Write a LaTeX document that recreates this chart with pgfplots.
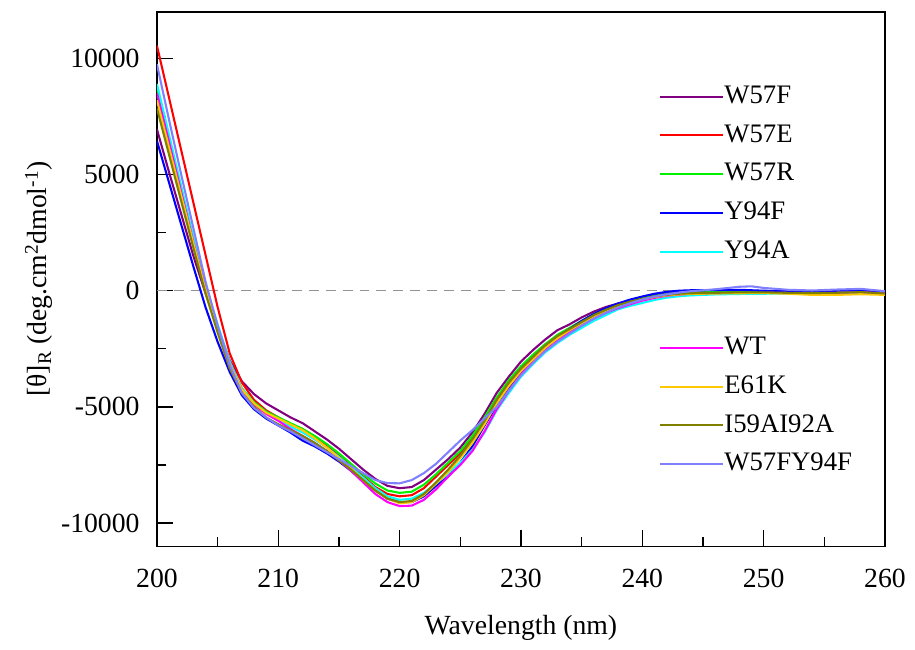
\documentclass[border=0pt]{standalone}
\usepackage{pgfplots}
\pgfplotsset{compat=1.18}
\usepackage{fontspec}
\setmainfont{Liberation Serif}
\setsansfont{Liberation Serif}
\newfontfamily\tnr{Liberation Serif}
\definecolor{cW57F}{HTML}{800080}
\definecolor{cW57E}{HTML}{FF0000}
\definecolor{cW57R}{HTML}{00F000}
\definecolor{cY94F}{HTML}{0000FF}
\definecolor{cY94A}{HTML}{00FFFF}
\definecolor{cWT}{HTML}{FF00FF}
\definecolor{cE61K}{HTML}{FFC800}
\definecolor{cI59}{HTML}{808000}
\definecolor{cDbl}{HTML}{8080FF}
\begin{document}
\tnr\fontsize{28}{32}\selectfont
\begin{tikzpicture}[font=\tnr]
\begin{axis}[
  scale only axis, width=733bp, height=538bp,
  xmin=200, xmax=260, ymin=-11000, ymax=12000,
  xtick={200,210,...,260}, minor xtick={205,215,...,255},
  ytick={-10000,-5000,0,5000,10000}, minor ytick={-7500,-2500,2500,7500},
  scaled y ticks=false,
  tick align=inside, xtick pos=bottom, ytick pos=left,
  major tick length=16bp, minor tick length=9bp,
  every tick/.style={black, line width=1.3pt},
  axis line style={line width=1.4pt},
  /pgf/number format/assume math mode=true,
  /pgf/number format/set thousands separator={},
  tick label style={font=\tnr\fontsize{28}{32}\selectfont},
  xticklabel style={yshift=-13bp},
  yticklabel style={xshift=-8bp},
  xlabel={Wavelength (nm)},
  ylabel={[θ]\textsubscript{R} (deg.cm\textsuperscript{2}dmol\textsuperscript{-1})},
  xlabel style={at={(axis description cs:0.5,-0.152)}, anchor=center, font=\tnr\fontsize{28}{32}\selectfont},
  ylabel style={at={(axis description cs:-0.162,0.5)}, anchor=center, font=\tnr\fontsize{28}{32}\selectfont},
  legend style={draw=none, fill=none, inner sep=0pt, at={(axis description cs:0.689,0.878)}, anchor=north west,
    font=\tnr\fontsize{27}{31}\selectfont, row sep=0pt, column sep=0pt, nodes={minimum height=39bp, inner sep=0pt}},
  legend cell align=left,
  legend image code/.code={\draw[#1] (0bp,0bp) -- (53bp,0bp); \path (0bp,0bp) -- (64bp,0bp);},
  every axis plot/.append style={line width=2.1pt},
]
\addplot[gray!85, dashed, line width=1.5pt, dash pattern=on 10bp off 7bp, forget plot] coordinates {(200,0) (260,0)};
% W57F
\addplot[cW57F] coordinates {(200,6950)(201,5100)(202,3300)(203,1500)(204,-100)(205,-1600)(206,-3000)(207,-3900)(208,-4450)(209,-4850)(210,-5150)(211,-5450)(212,-5700)(213,-6050)(214,-6400)(215,-6800)(216,-7250)(217,-7700)(218,-8100)(219,-8400)(220,-8500)(221,-8450)(222,-8150)(223,-7700)(224,-7250)(225,-6750)(226,-6100)(227,-5300)(228,-4400)(229,-3700)(230,-3050)(231,-2550)(232,-2100)(233,-1700)(234,-1450)(235,-1150)(236,-900)(237,-700)(238,-550)(239,-420)(240,-300)(241,-200)(242,-130)(243,-80)(244,-50)(246,-40)(248,-30)(250,-20)(252,-40)(254,-60)(256,-30)(258,-20)(260,-60)};
\addlegendentry{W57F}
% W57E
\addplot[cW57E] coordinates {(200,10550)(201,8300)(202,6050)(203,3800)(204,1550)(205,-700)(206,-2700)(207,-3950)(208,-4700)(209,-5150)(210,-5450)(211,-5750)(212,-5950)(213,-6300)(214,-6700)(215,-7100)(216,-7550)(217,-8000)(218,-8450)(219,-8750)(220,-8850)(221,-8800)(222,-8500)(223,-8000)(224,-7500)(225,-7000)(226,-6350)(227,-5600)(228,-4800)(229,-4050)(230,-3400)(231,-2900)(232,-2450)(233,-2050)(234,-1750)(235,-1450)(236,-1150)(237,-900)(238,-700)(239,-520)(240,-380)(241,-260)(242,-180)(243,-130)(244,-100)(246,-80)(248,-60)(250,-60)(252,-70)(254,-80)(256,-60)(258,-40)(260,-100)};
\addlegendentry{W57E}
% W57R
\addplot[cW57R] coordinates {(200,8700)(201,6500)(202,4350)(203,2200)(204,150)(205,-1500)(206,-3100)(207,-4200)(208,-4800)(209,-5200)(210,-5450)(211,-5700)(212,-5950)(213,-6250)(214,-6600)(215,-7000)(216,-7450)(217,-7900)(218,-8300)(219,-8600)(220,-8700)(221,-8650)(222,-8350)(223,-7900)(224,-7400)(225,-6900)(226,-6250)(227,-5450)(228,-4600)(229,-3850)(230,-3250)(231,-2750)(232,-2300)(233,-1900)(234,-1600)(235,-1300)(236,-1000)(237,-780)(238,-600)(239,-450)(240,-320)(241,-220)(242,-150)(243,-100)(244,-80)(246,-60)(248,-30)(250,-30)(252,-40)(254,-50)(256,-40)(258,20)(260,-60)};
\addlegendentry{W57R}
% Y94F
\addplot[cY94F] coordinates {(200,6450)(201,4650)(202,2850)(203,1050)(204,-700)(205,-2200)(206,-3500)(207,-4500)(208,-5100)(209,-5500)(210,-5800)(211,-6100)(212,-6450)(213,-6700)(214,-7000)(215,-7350)(216,-7750)(217,-8200)(218,-8600)(219,-8950)(220,-9100)(221,-9100)(222,-8850)(223,-8400)(224,-8000)(225,-7400)(226,-6700)(227,-5800)(228,-4950)(229,-4200)(230,-3500)(231,-2900)(232,-2400)(233,-2000)(234,-1650)(235,-1300)(236,-1000)(237,-750)(238,-550)(239,-380)(240,-250)(241,-130)(242,-50)(243,0)(244,20)(246,30)(248,40)(250,0)(252,-20)(254,-30)(256,0)(258,20)(260,-50)};
\addlegendentry{Y94F}
% Y94A
\addplot[cY94A] coordinates {(200,8900)(201,6700)(202,4500)(203,2300)(204,250)(205,-1450)(206,-3050)(207,-4200)(208,-4850)(209,-5250)(210,-5550)(211,-5850)(212,-6100)(213,-6400)(214,-6750)(215,-7150)(216,-7600)(217,-8050)(218,-8500)(219,-8850)(220,-9000)(221,-8950)(222,-8700)(223,-8300)(224,-7850)(225,-7400)(226,-6850)(227,-6100)(228,-5150)(229,-4400)(230,-3700)(231,-3150)(232,-2650)(233,-2250)(234,-1900)(235,-1600)(236,-1300)(237,-1050)(238,-800)(239,-650)(240,-530)(241,-400)(242,-300)(243,-240)(244,-200)(246,-160)(248,-140)(250,-130)(252,-120)(254,-120)(256,-100)(258,-90)(260,-120)};
\addlegendentry{Y94A}
% WT
\addplot[cWT] coordinates {(200,8500)(201,6400)(202,4250)(203,2100)(204,100)(205,-1550)(206,-3150)(207,-4250)(208,-4900)(209,-5300)(210,-5600)(211,-5950)(212,-6250)(213,-6550)(214,-6900)(215,-7300)(216,-7750)(217,-8250)(218,-8750)(219,-9100)(220,-9270)(221,-9250)(222,-9000)(223,-8550)(224,-8000)(225,-7500)(226,-6900)(227,-6050)(228,-5100)(229,-4300)(230,-3600)(231,-3050)(232,-2550)(233,-2150)(234,-1800)(235,-1500)(236,-1200)(237,-950)(238,-750)(239,-580)(240,-430)(241,-310)(242,-220)(243,-170)(244,-130)(246,-100)(248,-90)(250,-90)(252,-100)(254,-110)(256,-90)(258,-70)(260,-110)};
% E61K
\addplot[cE61K] coordinates {(200,8200)(201,6150)(202,4100)(203,2050)(204,50)(205,-1600)(206,-3150)(207,-4250)(208,-4850)(209,-5250)(210,-5500)(211,-5750)(212,-6000)(213,-6350)(214,-6750)(215,-7200)(216,-7650)(217,-8150)(218,-8600)(219,-8950)(220,-9150)(221,-9100)(222,-8800)(223,-8300)(224,-7800)(225,-7200)(226,-6550)(227,-5750)(228,-4850)(229,-4100)(230,-3450)(231,-2950)(232,-2450)(233,-2050)(234,-1700)(235,-1400)(236,-1100)(237,-850)(238,-650)(239,-500)(240,-370)(241,-270)(242,-200)(243,-160)(244,-140)(246,-120)(248,-110)(250,-100)(252,-130)(254,-180)(256,-180)(258,-150)(260,-180)};
% I59AI92A
\addplot[cI59] coordinates {(200,7850)(201,5850)(202,3850)(203,1850)(204,-100)(205,-1800)(206,-3350)(207,-4400)(208,-5000)(209,-5450)(210,-5750)(211,-6000)(212,-6250)(213,-6550)(214,-6900)(215,-7300)(216,-7700)(217,-8150)(218,-8600)(219,-8950)(220,-9100)(221,-9050)(222,-8750)(223,-8250)(224,-7700)(225,-7100)(226,-6400)(227,-5600)(228,-4700)(229,-3950)(230,-3350)(231,-2850)(232,-2350)(233,-1950)(234,-1650)(235,-1350)(236,-1050)(237,-820)(238,-620)(239,-470)(240,-350)(241,-250)(242,-180)(243,-130)(244,-110)(246,-90)(248,-70)(250,-70)(252,-90)(254,-100)(256,-90)(258,-60)(260,-120)};
% W57FY94F
\addplot[cDbl] coordinates {(200,9750)(201,7350)(202,5000)(203,2700)(204,400)(205,-1500)(206,-3200)(207,-4400)(208,-5050)(209,-5450)(210,-5800)(211,-6050)(212,-6350)(213,-6650)(214,-6950)(215,-7250)(216,-7550)(217,-7850)(218,-8150)(219,-8280)(220,-8290)(221,-8150)(222,-7850)(223,-7450)(224,-6950)(225,-6450)(226,-6000)(227,-5500)(228,-5000)(229,-4300)(230,-3650)(231,-3100)(232,-2600)(233,-2200)(234,-1850)(235,-1500)(236,-1200)(237,-950)(238,-720)(239,-540)(240,-380)(241,-250)(242,-160)(243,-80)(244,-20)(246,60)(248,170)(249,190)(250,120)(252,40)(254,10)(256,50)(258,80)(260,-20)};
\end{axis}
\begin{axis}[
  scale only axis, width=733bp, height=538bp,
  xmin=200, xmax=260, ymin=-11000, ymax=12000,
  hide axis,
  legend style={draw=none, fill=none, inner sep=0pt, at={(axis description cs:0.689,0.408)}, anchor=north west,
    font=\tnr\fontsize{27}{31}\selectfont, row sep=0pt, column sep=0pt, nodes={minimum height=39bp, inner sep=0pt}},
  legend cell align=left,
  legend image code/.code={\draw[#1] (0bp,0bp) -- (53bp,0bp); \path (0bp,0bp) -- (64bp,0bp);},
]
\addlegendimage{cWT, line width=2.1pt}
\addlegendentry{WT}
\addlegendimage{cE61K, line width=2.1pt}
\addlegendentry{E61K}
\addlegendimage{cI59, line width=2.1pt}
\addlegendentry{I59AI92A}
\addlegendimage{cDbl, line width=2.1pt}
\addlegendentry{W57FY94F}
\end{axis}
\path ([xshift=-158bp,yshift=-93bp]current axis.south west) rectangle ([xshift=24bp,yshift=12bp]current axis.north east);
\end{tikzpicture}
\end{document}
